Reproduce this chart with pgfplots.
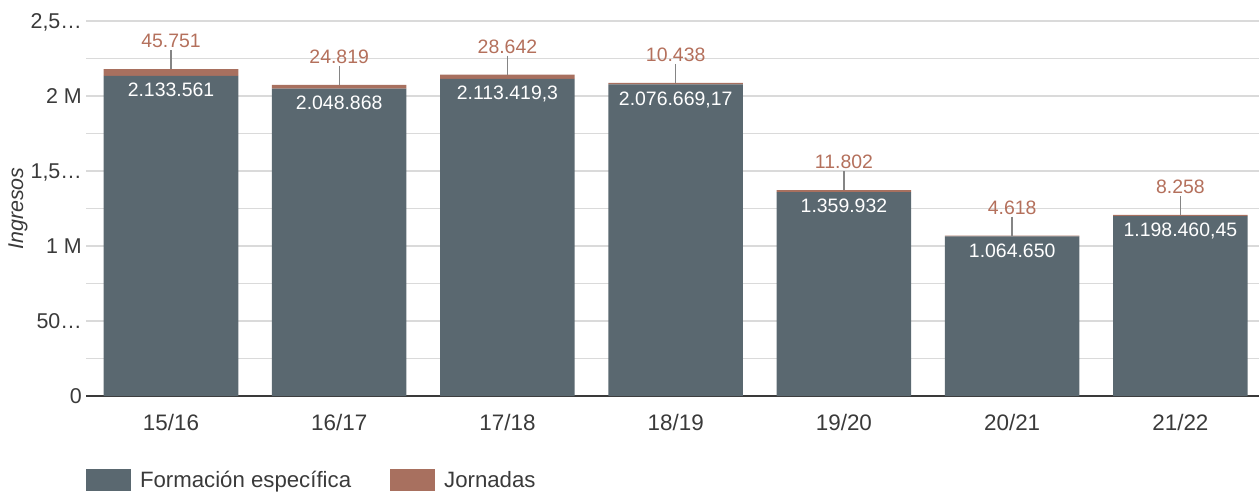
\documentclass[border=0pt]{standalone}
\usepackage{fontspec}
\setmainfont{Liberation Sans}
\usepackage{pgfplots}
\usepackage{pgfplotstable}
\pgfplotsset{compat=1.18}
\definecolor{formcol}{HTML}{5A6870}
\definecolor{jorncol}{HTML}{A8705F}
\definecolor{jorntext}{HTML}{B4705C}
\definecolor{gridc}{HTML}{DADADA}
\definecolor{txt}{HTML}{3A3A3A}
\definecolor{leader}{HTML}{858585}
\pgfplotstableread{
x y lab
0 2133561 2.133.561
1 2048868 2.048.868
2 2113419.3 2.113.419,3
3 2076669.17 2.076.669,17
4 1359932 1.359.932
5 1064650 1.064.650
6 1198460.45 1.198.460,45
}\formacion
\pgfplotstableread{
x y tot lab
0 45751 2179312 45.751
1 24819 2073687 24.819
2 28642 2142061.3 28.642
3 10438 2087107.17 10.438
4 11802 1371734 11.802
5 4618 1069268 4.618
6 8258 1206718.45 8.258
}\jornadas
\pgfplotsset{frame/.style={at={(86bp,97bp)}, anchor=south west,
  scale only axis, width=1173bp, height=375bp,
  xmin=-0.505, xmax=6.467, ymin=0, ymax=2500000, clip=false}}
\begin{document}
\begin{tikzpicture}
\useasboundingbox (0,0) rectangle (1259bp,493bp);
\begin{axis}[
  frame,
  ybar stacked, bar width=0.8,
  axis line style={draw=none},
  major tick length=0, minor tick length=0,
  scaled y ticks=false,
  xtick={0,...,6}, xticklabels={15/16,16/17,17/18,18/19,19/20,20/21,21/22},
  ytick={0,500000,1000000,1500000,2000000,2500000},
  yticklabels={0,50…,1 M,{1,5…},2 M,{2,5…}},
  minor ytick={250000,750000,1250000,1750000,2250000},
  ymajorgrids, yminorgrids,
  major grid style={draw=gridc, line width=1.3bp},
  minor grid style={draw=gridc, line width=1.3bp},
  extra y ticks={0}, extra y tick labels={},
  extra y tick style={ymajorgrids=true, major grid style={draw=txt, line width=1.5bp}},
  tick label style={font=\fontsize{21.5}{24}\selectfont, text=txt},
  xticklabel style={anchor=base, yshift=-34bp, inner sep=0pt, font=\fontsize{22.5}{24}\selectfont},
  yticklabel style={anchor=base east, xshift=-4bp, yshift=-7.7bp, inner sep=0pt},
  ylabel={Ingresos},
  every axis y label/.style={at={(axis description cs:-0.058,0.5)}, rotate=90, anchor=center, font=\fontsize{21.5}{24}\selectfont\itshape, text=txt},
  legend columns=2,
  legend style={at={(axis description cs:0,-0.224)}, anchor=west, draw=none, fill=none,
    inner sep=0pt, outer sep=0pt, font=\fontsize{22.3}{24}\selectfont, text=txt,
    nodes={inner sep=0pt},
    /tikz/every odd column/.append style={column sep=9bp},
    /tikz/every even column/.append style={column sep=39bp}},
  legend cell align=left,
]
\addplot[fill=formcol, draw=none,
  legend image code/.code={\fill[formcol] (0bp,-11bp) rectangle (45bp,11bp);}]
  table[x=x, y=y] {\formacion};
\addlegendentry{Formación específica}
\addplot[fill=jorncol, draw=none,
  legend image code/.code={\fill[jorncol] (0bp,-11bp) rectangle (45bp,11bp);}]
  table[x=x, y=y] {\jornadas};
\addlegendentry{Jornadas}
\end{axis}
% overlay axis for value labels
\begin{axis}[frame, hide axis]
\addplot[sharp plot, draw=none, mark=none,
  nodes near coords, point meta=explicit symbolic,
  every node near coord/.append style={anchor=north, yshift=-7bp, inner sep=0pt,
    font=\fontsize{19.5}{22}\selectfont, text=white}]
  table[x=x, y=y, meta=lab] {\formacion};
\addplot[sharp plot, draw=none, mark=none,
  nodes near coords, point meta=explicit symbolic,
  every node near coord/.append style={anchor=south, yshift=21bp, inner sep=0pt,
    font=\fontsize{19.5}{22}\selectfont, text=jorntext,
    append after command={([yshift=-2bp]\tikzlastnode.south) edge[draw=leader, line width=1.4bp] ([yshift=-21bp]\tikzlastnode.south)}}]
  table[x=x, y=tot, meta=lab] {\jornadas};
\end{axis}
\end{tikzpicture}
\end{document}
